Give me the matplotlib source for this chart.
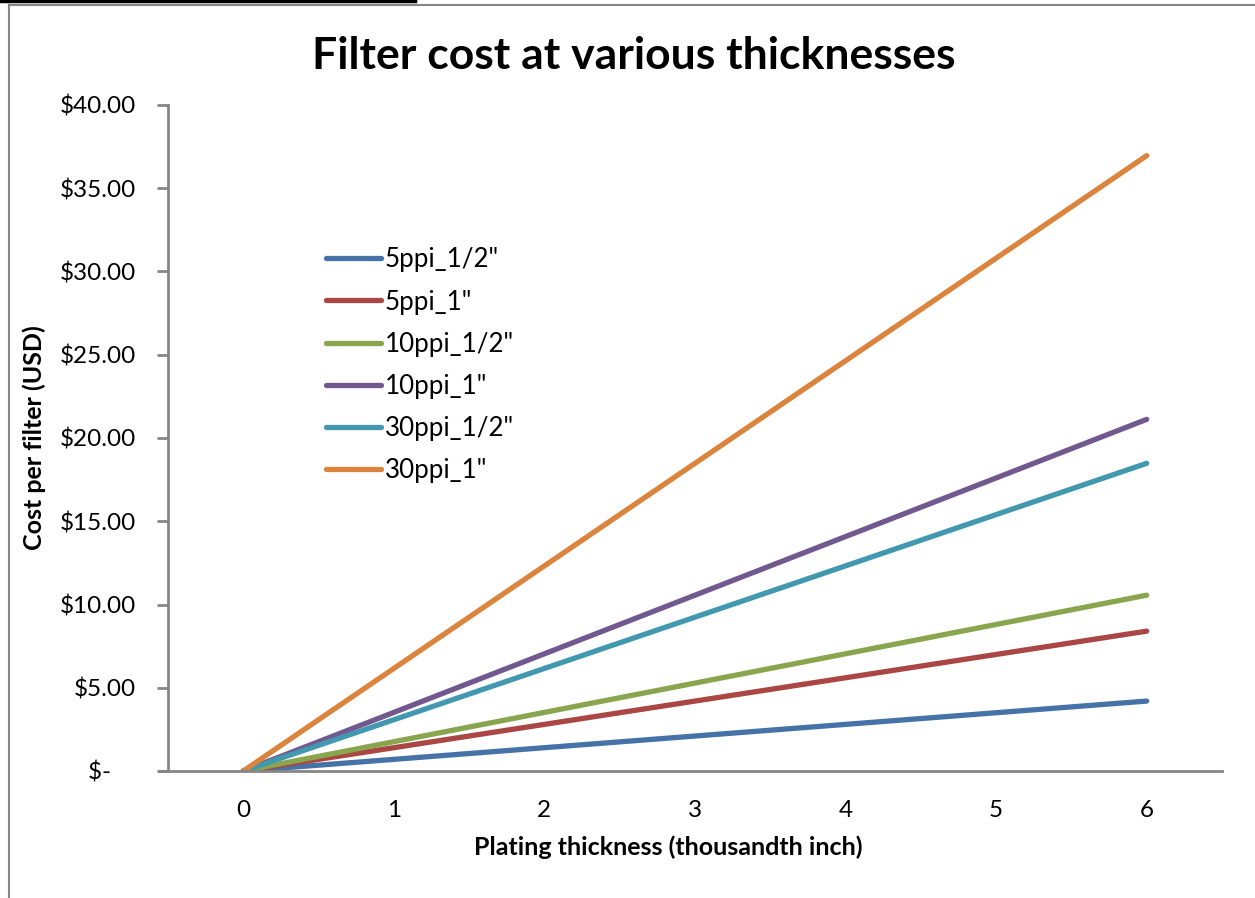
import matplotlib
matplotlib.use('Agg')

import matplotlib.pyplot as plt
import matplotlib.ticker as mtick
from matplotlib.lines import Line2D

plt.rcParams['font.family'] = ['Lato', 'DejaVu Sans']

# Plating thickness in thousandths of an inch
thickness = [0, 1, 2, 3, 4, 5, 6]

# Cost per filter (USD) for each pore size / filter depth
series_names = ['5ppi_1/2"', '5ppi_1"', '10ppi_1/2"', '10ppi_1"', '30ppi_1/2"', '30ppi_1"']
cost_5ppi_half = [0, 0.70, 1.40, 2.10, 2.80, 3.50, 4.20]
cost_5ppi_one = [0, 1.40, 2.80, 4.20, 5.60, 7.00, 8.40]
cost_10ppi_half = [0, 1.76, 3.52, 5.28, 7.04, 8.80, 10.56]
cost_10ppi_one = [0, 3.52, 7.04, 10.56, 14.08, 17.60, 21.12]
cost_30ppi_half = [0, 3.08, 6.16, 9.24, 12.32, 15.40, 18.48]
cost_30ppi_one = [0, 6.16, 12.32, 18.48, 24.64, 30.80, 36.96]

colors = ['#4572A7', '#AA4643', '#89A54E', '#71588F', '#4198AF', '#DB843D']
axis_grey = '#868686'

W, H = 1255, 898
fig = plt.figure(figsize=(W / 100, H / 100), dpi=100)

# chart area border and the cell border above it
fig.add_artist(Line2D([9 / W, 1], [1 - 5 / H, 1 - 5 / H], color=axis_grey, lw=1.5))
fig.add_artist(Line2D([9 / W, 9 / W], [0, 1 - 5 / H], color=axis_grey, lw=1.5))
fig.add_artist(Line2D([0, 415 / W], [1 - 1 / H, 1 - 1 / H], color='black', lw=2.5))

ax = fig.add_axes([168 / W, (H - 771) / H, (1222 - 168) / W, (771 - 105) / H])

all_costs = [cost_5ppi_half, cost_5ppi_one, cost_10ppi_half,
             cost_10ppi_one, cost_30ppi_half, cost_30ppi_one]
for name, vals, c in zip(series_names, all_costs, colors):
    ax.plot(thickness, vals, color=c, lw=3.8, solid_capstyle='round',
            solid_joinstyle='round', label=name)

ax.set_xlim(-0.5, 6.5)
ax.set_ylim(0, 40)
ax.set_xticks(thickness)
ax.yaxis.set_major_locator(mtick.MultipleLocator(5))


def dollars(v, pos):
    if abs(v) < 1e-9:
        return '$-    '
    return f'${v:,.2f}'


ax.yaxis.set_major_formatter(mtick.FuncFormatter(dollars))

for side in ('top', 'right'):
    ax.spines[side].set_visible(False)
for side in ('left', 'bottom'):
    ax.spines[side].set_color(axis_grey)
    ax.spines[side].set_linewidth(2)
ax.spines['bottom'].set_bounds(-0.5 - 8 / 150.8, 6.5)

ax.tick_params(axis='y', direction='out', length=8, width=2, color=axis_grey,
               labelsize=17.5, pad=15)
ax.tick_params(axis='x', length=0, labelsize=17.5, pad=21)

ax.set_xlabel('Plating thickness (thousandth inch)', fontsize=18,
              fontweight='bold')
ax.xaxis.set_label_coords((668 - 168) / 1054, -64 / 666)
ax.set_ylabel('Cost per filter (USD)', fontsize=18, fontweight='bold',
              labelpad=10)
fig.text(634 / W, 1 - 56 / H, 'Filter cost at various thicknesses',
         fontsize=32, fontweight='bold', ha='center', va='center')

ax.legend(loc='upper left', bbox_to_anchor=(148 / 1054, 1 - 132 / 666),
          frameon=False, fontsize=18.7, handlelength=2.12, handletextpad=0.12,
          labelspacing=0.66, borderaxespad=0)

fig.savefig('out.png', dpi=100)
